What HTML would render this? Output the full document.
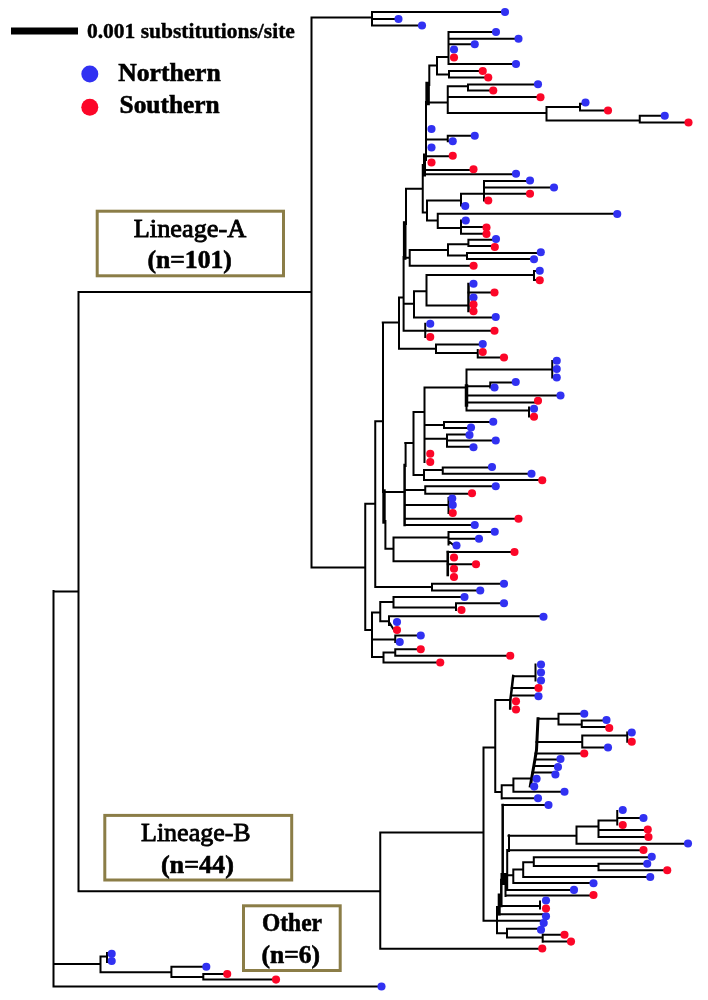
<!DOCTYPE html>
<html><head><meta charset="utf-8"><title>Phylogenetic tree</title>
<style>
html,body{margin:0;padding:0;background:#fff}
body{width:708px;height:1000px;overflow:hidden}
svg{display:block}
text{font-family:"Liberation Serif","Times New Roman",serif;fill:#000}
.b{font-weight:bold}
</style></head><body>
<svg width="708" height="1000" viewBox="0 0 708 1000">
<rect width="708" height="1000" fill="#fff"/>
<g fill="none" stroke="#000" stroke-linecap="square" stroke-linejoin="miter">
<path d="M53.5 591V986.5M53.5 986.5H381.5M53.5 591.5H78.5M78.5 292V891.25M78.5 292H311.5M311.5 17.5V567.5M311.5 17.5H372M311.5 567.5H365.25M78.5 891.25H380.25M53.5 964H100.5M100.5 956.4V972.2M100.5 956.4H107M107 953V962M100.5 972.2H171.4M171.4 966.7V977M171.4 966.7H206.3M171.4 977H203.3M203.3 974V979.6M203.3 974H227.2M203.3 979.6H276M372 12V25.5M372 12H505M372 19H398.5M372 25.5H422M365.25 503.75V630M365.25 503.75H375.25M375.25 421.25V587M375.25 421.25H382.75M383 322.5V492M385.4 521V548.75M382.75 322.5H399M399 297.5V348.75M399 297.5H403.6M406 188.75V224M403.6 257V330.75M406 188.75H422.75M422.75 165V212.5M426 102V160M429.3 65.5V85M429.3 65.5H437M437 57V74.5M437 57H448.5M448.5 32V64M448.5 32H496M448.5 38.75H518.5M448.5 44.25H474.75M448.5 64H516M437 74.5H449M449 71V77.5M449 71H482.75M449 77.5H488.25M427 102.5H447.75M447.75 86.25V113M447.75 86.25H468M468 84.5V90.5M468 84.5H538M468 90.5H493.25M447.75 97H540.5M447.75 113H546.5M546.5 107V120.5M546.5 107H580M580 103.75V110.5M580 103.75H585.5M580 110.5H608M546.5 120.5H639.75M639.75 115.75V122.5M639.75 115.75H664.75M639.75 122.5H688.5M426 139.5H447.75M447.75 135.75V141.25M447.75 135.75H474.75M447.75 141.25H452.75M426 156.25H452.75M424 170H473.5M423 174.25H516M422.75 212.5H427M427 200.5V220.5M427 200.5H461M461 193.75V205.5M461 193.75H484M484 181V200.5M484 181H530M484 187.5H554M484 193.75H530M484 200.5H488.25M461 205.5H465.25M427 220.5H437.75M437.75 213.75V228M437.75 213.75H617.25M437.75 228H461M461 220.5V233.75M461 220.5H465.75M461 227H486.5M461 233.75H486.5M404.5 257.8H409.7M409.7 250V265.7M409.7 250H448M448 244.2V255.5M448 244.2H468.4M468.4 239.7V246M468.4 239.7H496M468.4 246H494.4M448 255.5H467M467 253V259M467 253H540.8M467 259H534M409.7 265.7H473.6M403.6 303.75H414M414 291.25V317.5M414 291.25H426.5M426.5 275V305.5M426.5 275H534M534 271V280M534 271H539M534 280H539M426.5 305.5H468.5M468.5 292.5H494.5M414 317.5H495.75M403.6 330.75H494.5M425.25 323.75V337M399 348.75H436M436 344.5V353M436 344.5H482.75M436 353H477.75M477.75 350V357.5M477.75 357.5H504M384 492H404.4M405.6 443V466M405.25 443H413.5M413.5 412V475M413.5 412H424.5M424.5 387.5V462M424.5 387.5H466.5M466.5 369.5V410.5M466.5 369.5H552.25M552.25 361V377.5M466.5 386.25H490.25M490.25 382.5V387.5M490.25 382.5H515.75M466.5 395.5H560.5M466.5 402.5H534.5M466.5 410.5H529M529 407.5V416.5M424.5 425H444M444 422V428M444 422H493.25M444 428H471M424.5 438.75H447M447 434.5V446.75M447 434.5H469.5M447 440.5H495.75M447 446.75H473.5M413.5 475H424M424 470V480M424 470H442.75M442.75 467.5V473.75M442.75 467.5H492M442.75 473.75H531M424 480H542.25M405.25 490H425.25M425.25 486.25V493.75M425.25 486.25H495.75M425.25 493.75H472M405.25 505H448.5M448.5 498V513M405.25 518.75H518.5M405.25 525H474.75M385.4 548.75H393.5M393.5 537.5V561.25M393.5 537.5H448.5M448.5 532V544.5M448.5 532H494.75M448.5 538.75H479M448.5 541L454 545.5M393.5 561.25H447.75M447.75 552H514.5M447.75 564.25H476M375.25 587H432M432 583.75V590.5M432 583.75H504M432 590.5H480.25M365.25 630H372M372 612.5V657M372 612.5H380.25M380.25 602V621.25M380.25 602H393.5M393.5 597V607.5M393.5 597H464.5M393.5 607.5H456M456 603.25V610M456 603.25H504M380.25 621.25H389M389 616.25V625M389 616.25H543.5M389 622L394 630M372 639.5H395.25M395.25 635.5V642M395.25 635.5H420.75M372 657H383.5M383.5 652.5V662.5M383.5 652.5H395.25M395.25 649.25V655.75M395.25 649.25H420.75M395.25 655.75H510.25M383.5 662.5H440.25M380.25 832.5V948.75M380.25 832.5H483.5M380.25 948.75H542.25M483.5 747.5V920.5M483.5 747.5H495.25M495.25 700V792M495.25 700H510.25M513.2 676.25H535.5M535.5 664.5V680.5M511.8 688H538.5M511 695.5H538.5M495.25 792H501.7M501.7 785.2V798.4M501.7 785.2H513.4M513.4 778.4V791.8M513.4 778.4H531M538 718.75H558.5M558.5 713.75V724.5M558.5 713.75H584.25M558.5 724.5H581.75M581.75 720.5V727M581.75 720.5H606.5M581.75 727H609.25M536.5 742H582.25M582.25 735.5V747.5M582.25 735.5H627.25M627.25 732.5V741.75M582.25 747.5H608M535.5 753.5H584.25M535 759.5H560.5M534 766H558M532.5 772.5H555.25M513.4 791.8H564.5M501.7 798.3H538M502.7 805H548.5M509 835.3V851M507.2 850V890M505.5 880V896M497 907V933.2M508.5 835.8H576.5M576.5 826.5V843.75M576.5 826.5H598.5M598.5 820.5V837M598.5 820.5H617.25M617.25 811V824.5M617.25 818H643.5M598.5 830H647.75M598.5 837H648.5M576.5 843.75H688M508.5 850.3H643.5M507 875.3H513.3M513.3 869.4V883M513.3 869.4H523.2M523.2 862.3V877M523.2 862.3H533.8M533.8 857.2V866.1M533.8 857.2H651.75M533.8 866.1H598.5M598.5 863.75V870.25M598.5 863.75H647.25M598.5 870.25H667.25M523.2 877H650.25M513.3 883H593.5M508 889.9H574M505.5 895.5H593.5M499 906.1H540M540 901.4V908.5M499 914.2H546M483.5 920.7H543M507 928.7H540M507 928.7V937.5M497 933.2H507M507 937.5H542.7M542.7 934.6V941.7M542.7 934.8H564.4M542.7 941.6H571" stroke-width="2.0"/>
<path d="M384 491V522" stroke-width="3.4"/>
<path d="M404.7 223V258" stroke-width="3.6"/>
<path d="M424.5 155V175M538 718.75L536.5 750L534 765L530.3 786M499.2 895V914" stroke-width="3.0"/>
<path d="M427.6 84V103" stroke-width="4.5"/>
<path d="M468.5 284V311M404.6 465V525M513.2 676L511.6 690L510.3 700L510.2 708.5M502.7 805V880M501.3 880V906" stroke-width="2.5"/>
<path d="M466.5 386V405" stroke-width="3.5"/>
<path d="M447.75 552V575" stroke-width="2.6"/>
</g>
<g fill="#000"><rect x="500.5" y="873" width="7" height="12"/></g>
<g fill="#3131f2"><circle cx="381.5" cy="986.5" r="4.05"/><circle cx="111.7" cy="953.7" r="4.05"/><circle cx="111.7" cy="961" r="4.05"/><circle cx="206.3" cy="966.7" r="4.05"/><circle cx="505" cy="12" r="4.05"/><circle cx="398.5" cy="19" r="4.05"/><circle cx="422" cy="25.5" r="4.05"/><circle cx="496" cy="32" r="4.05"/><circle cx="518.5" cy="38.75" r="4.05"/><circle cx="474.75" cy="44.25" r="4.05"/><circle cx="454" cy="49.5" r="4.05"/><circle cx="516" cy="64" r="4.05"/><circle cx="538" cy="84.25" r="4.05"/><circle cx="585.5" cy="102.5" r="4.05"/><circle cx="664.75" cy="115.75" r="4.05"/><circle cx="431.5" cy="129" r="4.05"/><circle cx="474.75" cy="135.75" r="4.05"/><circle cx="452.75" cy="141.25" r="4.05"/><circle cx="431.5" cy="147.5" r="4.05"/><circle cx="516" cy="173.75" r="4.05"/><circle cx="530" cy="180.5" r="4.05"/><circle cx="554" cy="187.5" r="4.05"/><circle cx="465.25" cy="206" r="4.05"/><circle cx="617.25" cy="214" r="4.05"/><circle cx="465.75" cy="220.5" r="4.05"/><circle cx="496" cy="239" r="4.05"/><circle cx="540.8" cy="252.3" r="4.05"/><circle cx="534" cy="259.3" r="4.05"/><circle cx="539.75" cy="270.75" r="4.05"/><circle cx="473.5" cy="283.75" r="4.05"/><circle cx="473.5" cy="297.5" r="4.05"/><circle cx="495.75" cy="317" r="4.05"/><circle cx="430.25" cy="323.75" r="4.05"/><circle cx="482.75" cy="344" r="4.05"/><circle cx="556.75" cy="360.75" r="4.05"/><circle cx="556.75" cy="369" r="4.05"/><circle cx="556.75" cy="377.5" r="4.05"/><circle cx="515.75" cy="382" r="4.05"/><circle cx="494.5" cy="387.5" r="4.05"/><circle cx="560.5" cy="395.5" r="4.05"/><circle cx="534" cy="408.75" r="4.05"/><circle cx="493.25" cy="421.75" r="4.05"/><circle cx="471" cy="427.5" r="4.05"/><circle cx="469.5" cy="435" r="4.05"/><circle cx="495.75" cy="440.5" r="4.05"/><circle cx="473.5" cy="447.25" r="4.05"/><circle cx="492" cy="467" r="4.05"/><circle cx="531.5" cy="473.75" r="4.05"/><circle cx="495.75" cy="486.25" r="4.05"/><circle cx="452.25" cy="498.5" r="4.05"/><circle cx="452.75" cy="505" r="4.05"/><circle cx="474.75" cy="525" r="4.05"/><circle cx="494.75" cy="531.75" r="4.05"/><circle cx="479" cy="538.75" r="4.05"/><circle cx="456.5" cy="545.5" r="4.05"/><circle cx="504" cy="583.75" r="4.05"/><circle cx="480.25" cy="590.5" r="4.05"/><circle cx="464.5" cy="597" r="4.05"/><circle cx="504" cy="603.25" r="4.05"/><circle cx="543.5" cy="616.75" r="4.05"/><circle cx="397" cy="622" r="4.05"/><circle cx="420.75" cy="635.5" r="4.05"/><circle cx="399.75" cy="642" r="4.05"/><circle cx="541" cy="664.5" r="4.05"/><circle cx="541" cy="672.5" r="4.05"/><circle cx="541" cy="680.5" r="4.05"/><circle cx="538.5" cy="696.25" r="4.05"/><circle cx="584.25" cy="713.75" r="4.05"/><circle cx="606.5" cy="720" r="4.05"/><circle cx="631.75" cy="732.5" r="4.05"/><circle cx="608" cy="747.5" r="4.05"/><circle cx="560.5" cy="759" r="4.05"/><circle cx="558" cy="767" r="4.05"/><circle cx="555.4" cy="774.5" r="4.05"/><circle cx="536.6" cy="778.8" r="4.05"/><circle cx="534.2" cy="786.6" r="4.05"/><circle cx="564.5" cy="791.8" r="4.05"/><circle cx="538" cy="798.2" r="4.05"/><circle cx="548.5" cy="805" r="4.05"/><circle cx="622.75" cy="810" r="4.05"/><circle cx="643.5" cy="818" r="4.05"/><circle cx="688" cy="843.5" r="4.05"/><circle cx="651.75" cy="856.75" r="4.05"/><circle cx="647.25" cy="863.75" r="4.05"/><circle cx="650.25" cy="877" r="4.05"/><circle cx="593.5" cy="883.25" r="4.05"/><circle cx="574" cy="889.9" r="4.05"/><circle cx="546" cy="900.5" r="4.05"/><circle cx="546" cy="916.3" r="4.05"/><circle cx="543.7" cy="923" r="4.05"/><circle cx="541" cy="929.7" r="4.05"/></g>
<g fill="#fc0628"><circle cx="227.2" cy="974" r="4.05"/><circle cx="276" cy="979.6" r="4.05"/><circle cx="454" cy="57.5" r="4.05"/><circle cx="482.75" cy="71" r="4.05"/><circle cx="488.25" cy="77.5" r="4.05"/><circle cx="493.25" cy="90.5" r="4.05"/><circle cx="540.5" cy="97.25" r="4.05"/><circle cx="608" cy="110.5" r="4.05"/><circle cx="688.5" cy="122.5" r="4.05"/><circle cx="452.75" cy="155.75" r="4.05"/><circle cx="431.5" cy="162.5" r="4.05"/><circle cx="473.5" cy="169.25" r="4.05"/><circle cx="530" cy="193.75" r="4.05"/><circle cx="488.25" cy="200.5" r="4.05"/><circle cx="486.5" cy="227.5" r="4.05"/><circle cx="486.5" cy="234" r="4.05"/><circle cx="494.8" cy="247" r="4.05"/><circle cx="473.6" cy="265.7" r="4.05"/><circle cx="539.75" cy="280.25" r="4.05"/><circle cx="494.5" cy="292.5" r="4.05"/><circle cx="473.5" cy="304.5" r="4.05"/><circle cx="473.5" cy="311.25" r="4.05"/><circle cx="494.5" cy="330.75" r="4.05"/><circle cx="430.25" cy="337" r="4.05"/><circle cx="482.75" cy="352" r="4.05"/><circle cx="504" cy="357.5" r="4.05"/><circle cx="538" cy="400.75" r="4.05"/><circle cx="534" cy="416.75" r="4.05"/><circle cx="430.25" cy="453.75" r="4.05"/><circle cx="430.25" cy="462" r="4.05"/><circle cx="542.25" cy="480.25" r="4.05"/><circle cx="472" cy="493.25" r="4.05"/><circle cx="452.75" cy="513" r="4.05"/><circle cx="518.5" cy="518.75" r="4.05"/><circle cx="514.5" cy="552" r="4.05"/><circle cx="454" cy="557.5" r="4.05"/><circle cx="476" cy="564.25" r="4.05"/><circle cx="454" cy="568.75" r="4.05"/><circle cx="454" cy="577" r="4.05"/><circle cx="461.5" cy="610" r="4.05"/><circle cx="397" cy="630" r="4.05"/><circle cx="420.75" cy="649.25" r="4.05"/><circle cx="510.25" cy="655.75" r="4.05"/><circle cx="440.25" cy="662.5" r="4.05"/><circle cx="542.25" cy="948.5" r="4.05"/><circle cx="538.5" cy="688" r="4.05"/><circle cx="516" cy="701.25" r="4.05"/><circle cx="516" cy="709.5" r="4.05"/><circle cx="609.25" cy="728" r="4.05"/><circle cx="631.75" cy="741.75" r="4.05"/><circle cx="584.25" cy="753.5" r="4.05"/><circle cx="622.75" cy="825" r="4.05"/><circle cx="647.75" cy="829.5" r="4.05"/><circle cx="648.5" cy="837" r="4.05"/><circle cx="643.5" cy="850" r="4.05"/><circle cx="667.25" cy="870.25" r="4.05"/><circle cx="593.5" cy="895" r="4.05"/><circle cx="546" cy="908.5" r="4.05"/><circle cx="564.5" cy="934.8" r="4.05"/><circle cx="571" cy="941.6" r="4.05"/></g>
<!-- legend -->
<rect x="11" y="27.5" width="67" height="7" fill="#000"/>
<text class="b" x="86.9" y="37.5" font-size="21" stroke="#000" stroke-width="0.4" textLength="208" lengthAdjust="spacingAndGlyphs">0.001 substitutions/site</text>
<circle cx="89.8" cy="74.1" r="8.5" fill="#3131f2"/>
<circle cx="89.8" cy="107.2" r="8.5" fill="#fc0628"/>
<g font-size="25.5" stroke="#000" stroke-width="0.6">
<text class="b" x="118.2" y="80.9" textLength="102.5" lengthAdjust="spacingAndGlyphs">Northern</text>
<text class="b" x="119.6" y="113.3" textLength="100" lengthAdjust="spacingAndGlyphs">Southern</text>
</g>
<!-- boxes -->
<g fill="#fff" stroke="#8b7d47" stroke-width="3">
<rect x="97.2" y="211.2" width="186.3" height="64.6"/>
<rect x="104.8" y="815.4" width="186.9" height="64.6"/>
<rect x="243.5" y="905.8" width="96.7" height="64.7"/>
</g>
<g font-size="25.5" stroke="#000" stroke-width="0.6">
<text stroke-width="0.85" x="133.8" y="236.7" textLength="112.4" lengthAdjust="spacingAndGlyphs">Lineage-A</text>
<text class="b" x="147.4" y="267.9" textLength="84.5" lengthAdjust="spacingAndGlyphs">(n=101)</text>
<text stroke-width="0.85" x="141" y="841.2" textLength="109.7" lengthAdjust="spacingAndGlyphs">Lineage-B</text>
<text class="b" x="160.9" y="872.5" textLength="73" lengthAdjust="spacingAndGlyphs">(n=44)</text>
<text class="b" x="262" y="931" textLength="60" lengthAdjust="spacingAndGlyphs">Other</text>
<text class="b" x="261.5" y="963" textLength="58.5" lengthAdjust="spacingAndGlyphs">(n=6)</text>
</g>
</svg>
</body></html>
